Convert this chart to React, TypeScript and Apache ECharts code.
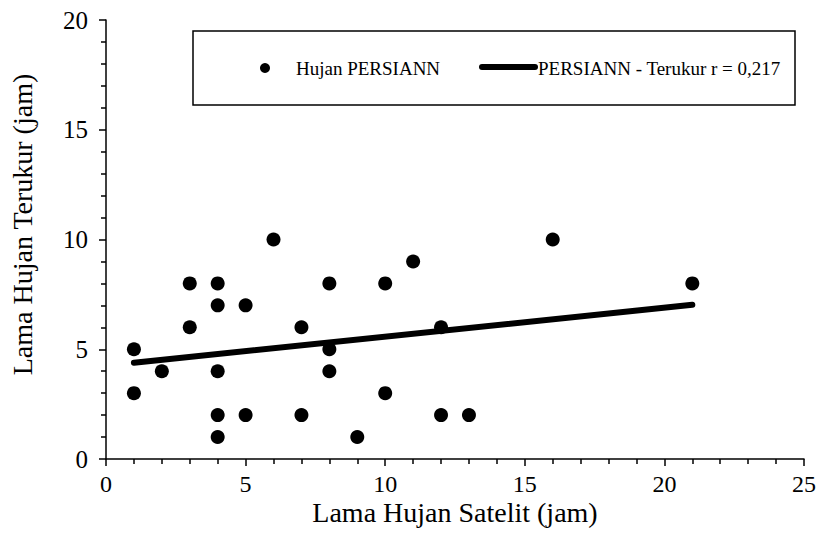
import React, { useEffect, useRef } from "react";
import * as echarts from "echarts";

const satelliteHours = [1, 1, 2, 3, 3, 4, 4, 4, 4, 4, 5, 5, 6, 7, 7, 8, 8, 8, 9, 10, 10, 11, 12, 12, 13, 16, 21];
const gaugeHours = [5, 3, 4, 8, 6, 8, 7, 4, 2, 1, 7, 2, 10, 6, 2, 8, 5, 4, 1, 8, 3, 9, 6, 2, 2, 10, 8];
const scatterName = "Hujan PERSIANN";
const trendName = "PERSIANN - Terukur r = 0,217";
const xTitle = "Lama Hujan Satelit (jam)";
const yTitle = "Lama Hujan Terukur (jam)";

const FONT = "'Liberation Serif', 'Times New Roman', serif";

function regression(xs: number[], ys: number[]) {
  const n = xs.length;
  const mx = xs.reduce((a, b) => a + b, 0) / n;
  const my = ys.reduce((a, b) => a + b, 0) / n;
  let sxy = 0;
  let sxx = 0;
  for (let i = 0; i < n; i++) {
    sxy += (xs[i] - mx) * (ys[i] - my);
    sxx += (xs[i] - mx) * (xs[i] - mx);
  }
  const b = sxy / sxx;
  const a = my - b * mx;
  return { a, b };
}

export default function App() {
  const ref = useRef<HTMLDivElement>(null);
  useEffect(() => {
    document.body.style.margin = "0";
    if (!ref.current) return;
    const chart = echarts.init(ref.current, null, { renderer: "svg" });
    const { a, b } = regression(satelliteHours, gaugeHours);
    const xmin = Math.min(...satelliteHours);
    const xmax = Math.max(...satelliteHours);
    const trend = [
      [xmin, a + b * xmin],
      [xmax, a + b * xmax],
    ];
    const points = satelliteHours.map((x, i) => [x, gaugeHours[i]]);

    chart.setOption({
      animation: false,
      backgroundColor: "#ffffff",
      grid: { left: 102, top: 20, width: 704, height: 439, containLabel: false },
      xAxis: {
        type: "value",
        min: 0,
        max: 25,
        interval: 5,
        name: xTitle,
        nameLocation: "middle",
        nameGap: 39,
        nameMoveOverlap: false,
        nameTextStyle: { fontFamily: FONT, fontSize: 28, color: "#000" },
        axisLine: { show: true, onZero: false, lineStyle: { color: "#000", width: 1.5 } },
        axisTick: { show: true, inside: false, length: 7, lineStyle: { color: "#000", width: 1.5 } },
        minorTick: { show: true, splitNumber: 5, length: 5, lineStyle: { color: "#000", width: 1.5 } },
        splitLine: { show: false },
        axisLabel: { fontFamily: FONT, fontSize: 24, color: "#000", margin: 13 },
      },
      yAxis: {
        type: "value",
        min: 0,
        max: 20,
        interval: 5,
        name: yTitle,
        nameLocation: "middle",
        nameGap: 70,
        nameMoveOverlap: false,
        nameTextStyle: { fontFamily: FONT, fontSize: 28, color: "#000", padding: [0, 0, 0, 30] },
        axisLine: { show: true, onZero: false, lineStyle: { color: "#000", width: 1.5 } },
        axisTick: { show: true, inside: false, length: 7, lineStyle: { color: "#000", width: 1.5 } },
        minorTick: { show: true, splitNumber: 5, length: 5, lineStyle: { color: "#000", width: 1.5 } },
        splitLine: { show: false },
        axisLabel: { fontFamily: FONT, fontSize: 25, color: "#000", margin: 18 },
      },
      series: [
        {
          name: scatterName,
          type: "scatter",
          data: points,
          symbol: "circle",
          symbolSize: 14,
          itemStyle: { color: "#000", opacity: 1 },
          z: 2,
        },
        {
          name: trendName,
          type: "line",
          data: trend,
          symbol: "none",
          lineStyle: { color: "#000", width: 6, cap: "round" },
          z: 3,
        },
      ],
      graphic: [
        {
          type: "rect",
          shape: { x: 193, y: 31, width: 602, height: 74 },
          style: { fill: "#fff", stroke: "#000", lineWidth: 1.5 },
          z: 10,
        },
        {
          type: "circle",
          shape: { cx: 265, cy: 68, r: 5 },
          style: { fill: "#000" },
          z: 11,
        },
        {
          type: "text",
          x: 296,
          y: 68,
          style: {
            text: scatterName,
            fontFamily: FONT,
            fontSize: 19,
            fill: "#000",
            verticalAlign: "middle",
          },
          z: 11,
        },
        {
          type: "line",
          shape: { x1: 482, y1: 67, x2: 535, y2: 67 },
          style: { stroke: "#000", lineWidth: 6, lineCap: "round" },
          z: 11,
        },
        {
          type: "text",
          x: 538,
          y: 68,
          style: {
            text: trendName,
            fontFamily: FONT,
            fontSize: 19,
            fill: "#000",
            verticalAlign: "middle",
          },
          z: 11,
        },
      ],
    });
    return () => chart.dispose();
  }, []);
  return <div ref={ref} style={{ width: 819, height: 533 }} />;
}
